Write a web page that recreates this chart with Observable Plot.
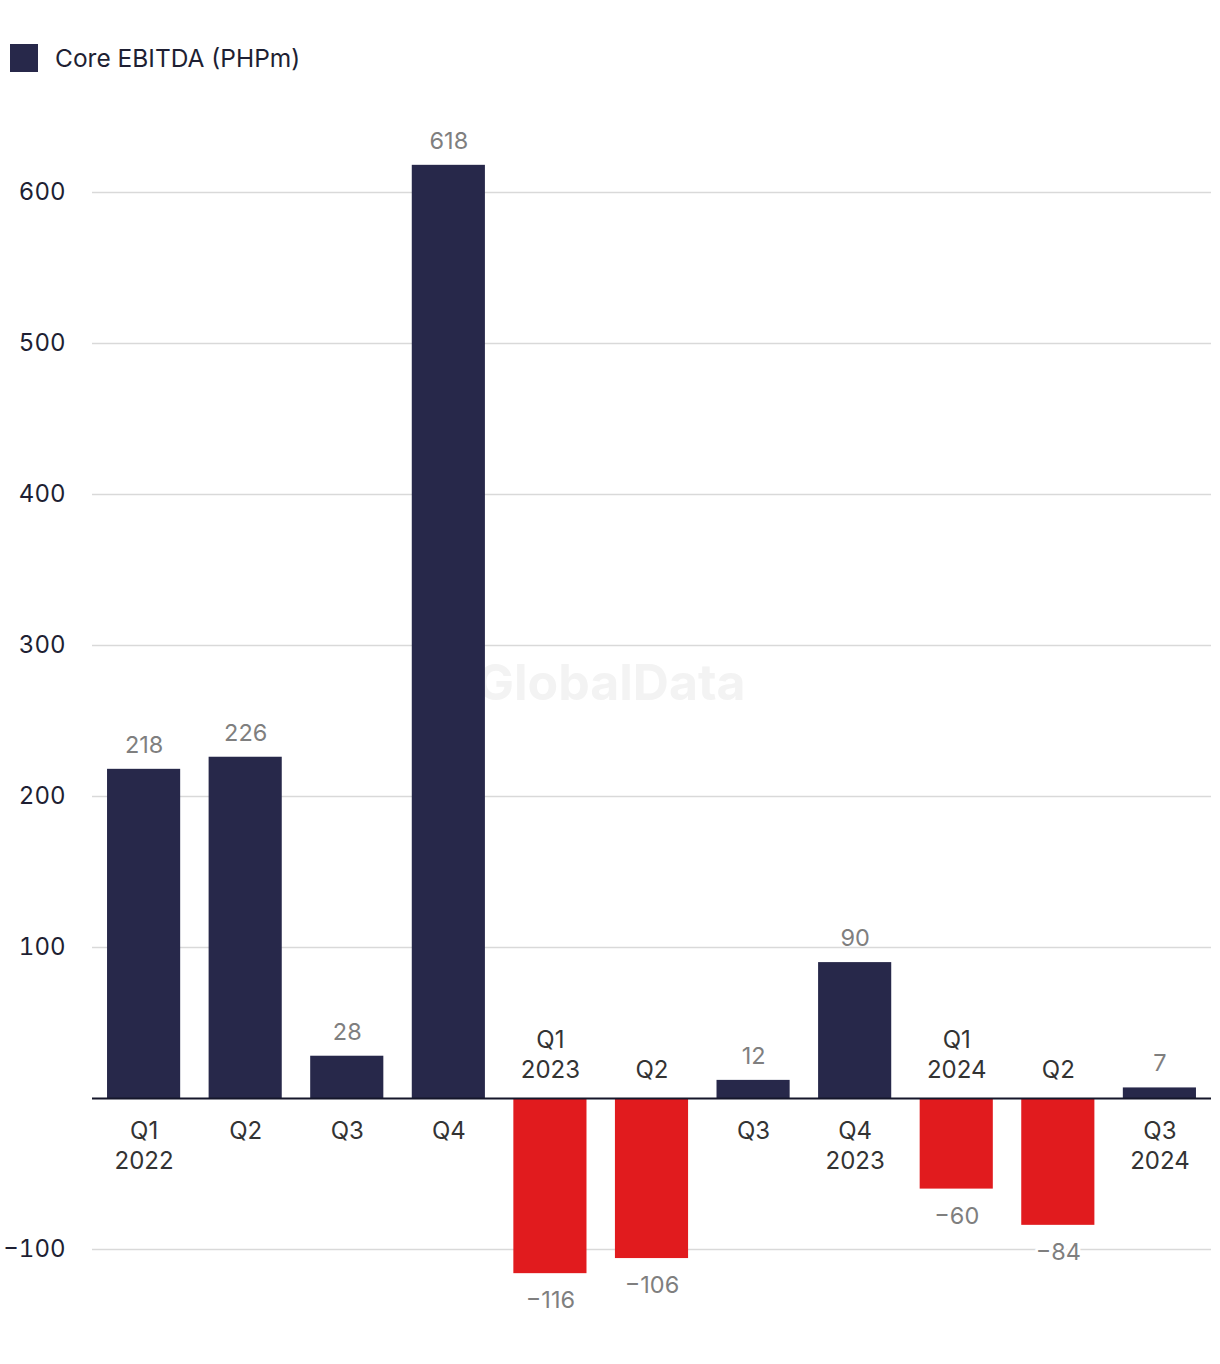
<!DOCTYPE html>
<html>
<head>
<meta charset="utf-8">
<script src="https://cdn.jsdelivr.net/npm/d3@7"></script>
<script src="https://cdn.jsdelivr.net/npm/@observablehq/plot@0.6"></script>
<style>
  html, body { margin: 0; padding: 0; background: #ffffff; }
  body { width: 1220px; height: 1364px; overflow: hidden; font-family: Inter, "Liberation Sans", sans-serif; }
  #legend { position: relative; height: 100px; }
  #legend .sw { position: absolute; left: 10px; top: 44px; width: 28px; height: 28px; background: #27284a; }
  #legend .lb { position: absolute; left: 55px; top: 58px; transform: translateY(-50%); font-size: 24.5px; color: #1e1f33; white-space: nowrap; }
  #chart svg { display: block; }
</style>
</head>
<body>
<div id="legend"><div class="sw"></div><div class="lb">Core EBITDA (PHPm)</div></div>
<div id="chart"></div>
<script>
const periods = ["Q1 2022","Q2 2022","Q3 2022","Q4 2022","Q1 2023","Q2 2023","Q3 2023","Q4 2023","Q1 2024","Q2 2024","Q3 2024"];
const tickLabels = ["Q1\n2022","Q2","Q3","Q4","Q1\n2023","Q2","Q3","Q4\n2023","Q1\n2024","Q2","Q3\n2024"];
const values = [218, 226, 28, 618, -116, -106, 12, 90, -60, -84, 7];
const yTicks = [-100, 100, 200, 300, 400, 500, 600];

const navy = "#27284a";
const red = "#e11b1e";
const data = periods.map((p, i) => ({period: p, label: tickLabels[i], value: values[i]}));
const pos = data.filter(d => d.value >= 0);
const neg = data.filter(d => d.value < 0);
const fmt = v => String(v).replace("-", "\u2212");

const chart = Plot.plot({
  width: 1220,
  height: 1264,
  marginLeft: 92,
  marginRight: 9,
  marginTop: 92,
  marginBottom: 115,
  style: {fontFamily: "Inter, 'Liberation Sans', sans-serif", fontSize: "22px", background: "white"},
  x: {domain: periods, paddingInner: 0.28, paddingOuter: 0.148, round: false, axis: null},
  y: {domain: [-100, 600]},
  marks: [
    Plot.text(["GlobalData"], {frameAnchor: "middle", dx: -41, dy: -37, fontSize: 50, fontWeight: "bold", fill: "#f3f3f3"}),
    Plot.gridY(yTicks, {stroke: "#d9d9d9", strokeOpacity: 1, strokeWidth: 1.5}),
    Plot.axisY(yTicks, {tickSize: 0, tickPadding: 27, fontSize: 24, fill: "#1e1f33", label: null}),
    Plot.barY(pos, {x: "period", y: "value", fill: navy}),
    Plot.barY(neg, {x: "period", y: "value", fill: red}),
    Plot.ruleY([0], {stroke: "#15162a", strokeWidth: 2}),
    Plot.text(pos, {x: "period", y: "value", text: d => fmt(d.value), dy: -24, fill: "#7f7f7f", fontSize: 23.5}),
    Plot.text(neg, {x: "period", y: "value", text: d => fmt(d.value), dy: 27, fill: "#7f7f7f", fontSize: 23.5, stroke: "white", strokeWidth: 6, paintOrder: "stroke"}),
    Plot.text(pos, {x: "period", y: () => 0, text: "label", lineAnchor: "top", dy: 19, lineHeight: 1.25, fill: "#333333", fontSize: 24}),
    Plot.text(neg, {x: "period", y: () => 0, text: "label", lineAnchor: "bottom", dy: -21, lineHeight: 1.25, fill: "#333333", fontSize: 24})
  ]
});
document.getElementById("chart").appendChild(chart);
</script>
</body>
</html>
